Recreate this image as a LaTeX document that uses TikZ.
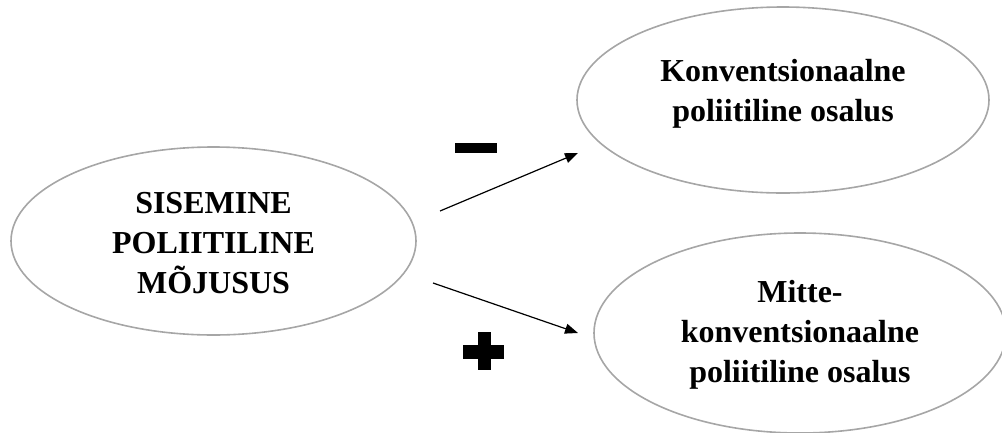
\documentclass[tikz,border=0pt]{standalone}
\usepackage{fontspec}
\setmainfont{Liberation Serif}
\usetikzlibrary{arrows.meta}
\definecolor{ovalgray}{RGB}{166,166,166}
\begin{document}
\begin{tikzpicture}[x=1pt,y=-1pt]
 	\tikzstyle{every node}+=[inner sep=0pt]
 	\tikzset{oval/.style={draw=ovalgray, line width=1.6pt},
 	  lbl/.style={align=center, font=\bfseries\fontsize{32}{40}\selectfont},
 	  link/.style={line width=1.2pt, -{Triangle[length=13pt,width=10pt]}}}
 	\useasboundingbox (0,0) rectangle (1002,432);
 	\draw [oval] (213.5,241) ellipse (202.5 and 94);
 	\node [lbl] (sis) at (213.5,243) {SISEMINE\\POLIITILINE\\MÕJUSUS};
 	\draw [oval] (783,100) ellipse (206 and 93);
 	\node [lbl] (konv) at (783,94) {Konventsionaalne\\poliitiline osalus};
 	\draw [oval] (800,333) ellipse (206 and 100);
 	\node [lbl] (mitte) at (800,335) {Mitte-\\konventsionaalne\\poliitiline osalus};
 	\coordinate (a1) at (440,211);
 	\coordinate (b1) at (578,153);
 	\coordinate (a2) at (433,283);
 	\coordinate (b2) at (578,333);
 	\draw [link] (a1) -- (b1);
 	\draw [link] (a2) -- (b2);
 	\fill [black] (455,143) rectangle (497,153);
 	\fill [black] (463,345) rectangle (504,359);
 	\fill [black] (478,332) rectangle (491,370);
\end{tikzpicture}
\end{document}
